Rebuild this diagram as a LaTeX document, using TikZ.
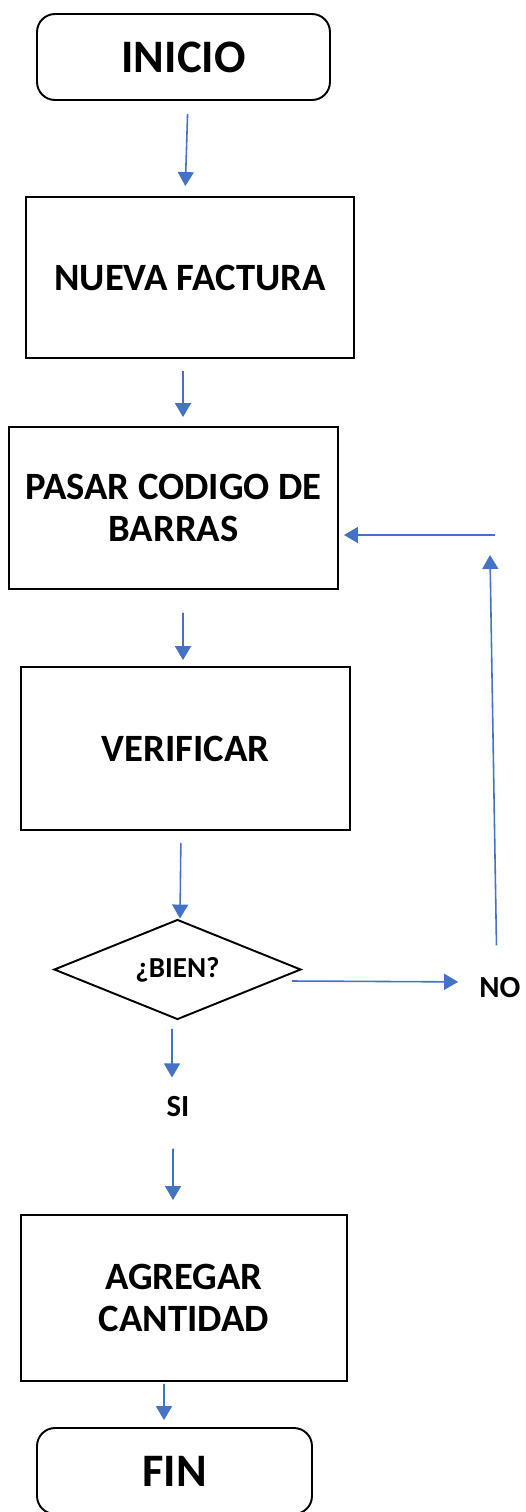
\documentclass[tikz,border=0pt]{standalone}
\usepackage{fontspec}
\setmainfont{Carlito}
\usetikzlibrary{shapes.geometric,arrows.meta}

\definecolor{flowblue}{HTML}{4472C4}

\tikzstyle{term} = [rectangle,rounded corners=0.36cm,draw,line width=1.1pt,inner sep=0pt,font=\fontsize{26.5}{30}\selectfont\bfseries]
\tikzstyle{proc} = [rectangle,draw,line width=1.1pt,inner sep=0pt,align=center,font=\fontsize{22}{24}\selectfont\bfseries]
\tikzstyle{decision} = [diamond,draw,line width=1.1pt,inner sep=0pt,aspect=2.47,minimum width=4.94cm,minimum height=2cm,font=\fontsize{16.5}{18}\selectfont\bfseries]
\tikzstyle{answer} = [inner sep=0pt,font=\fontsize{17.5}{20}\selectfont\bfseries]
\tikzstyle{link} = [draw=flowblue,line width=0.9pt,-{Triangle[length=0.28cm,width=0.32cm]}]

\begin{document}
\begin{tikzpicture}[x=0.02cm,y=-0.02cm]
	\useasboundingbox (0,0) rectangle (526,1512);

	\node[term,minimum width=5.86cm,minimum height=1.72cm] (inicio) at (183.5,57) {INICIO};
	\node[proc,minimum width=6.56cm,minimum height=3.22cm] (nueva) at (190,277.5) {NUEVA FACTURA};
	\node[proc,minimum width=6.58cm,minimum height=3.24cm] (pasar) at (173.5,508) {PASAR CODIGO DE\\BARRAS};
	\node[proc,minimum width=6.58cm,minimum height=3.26cm] (verificar) at (185.5,748.5) {VERIFICAR};
	\node[decision] (bien) at (177.5,969.5) {¿BIEN?};
	\node[answer] (no) at (500,988) {NO};
	\node[answer] (si) at (178,1107) {SI};
	\node[proc,minimum width=6.52cm,minimum height=3.32cm] (agregar) at (184,1298) {AGREGAR\\CANTIDAD};
	\node[term,minimum width=5.5cm,minimum height=1.72cm] (fin) at (174.5,1471) {FIN};

	\coordinate (ret1) at (490,555);
	\coordinate (ret2) at (495,535);

	\draw[link,shorten <=0.26cm,shorten >=0.2cm] ([xshift=0.09cm]inicio.south) -- ([xshift=-0.1cm]nueva.north);
	\draw[link,shorten <=0.24cm,shorten >=0.18cm] ([xshift=-0.14cm]nueva.south) -- ([xshift=0.19cm]pasar.north);
	\draw[link,shorten <=0.46cm,shorten >=0.12cm] ([xshift=0.19cm]pasar.south) -- ([xshift=-0.05cm]verificar.north);
	\draw[link,shorten <=0.24cm] ([xshift=-0.09cm]verificar.south) -- ([xshift=0.05cm]bien.north);

	\draw[link,shorten <=0.17cm,shorten >=0.38cm] ([xshift=-0.11cm]bien.south) -- ([xshift=-0.12cm]si.north);
	\draw[link,shorten <=0.62cm,shorten >=0.28cm] ([xshift=-0.1cm]si.south) -- ([xshift=-0.22cm]agregar.north);
	\draw[link,shorten <=0.04cm,shorten >=0.14cm] ([xshift=-0.4cm]agregar.south) -- ([xshift=-0.21cm]fin.north);

	\draw[link,shorten >=0.42cm] ([xshift=-0.2cm,yshift=-0.23cm]bien.east) -- ([yshift=0.12cm]no.west);
	\draw[link,shorten <=0.64cm] ([xshift=-0.06cm]no.north) -- (ret1);
	\draw[link,shorten >=0.1cm] (ret2) -- (ret2 -| pasar.east);
\end{tikzpicture}
\end{document}
